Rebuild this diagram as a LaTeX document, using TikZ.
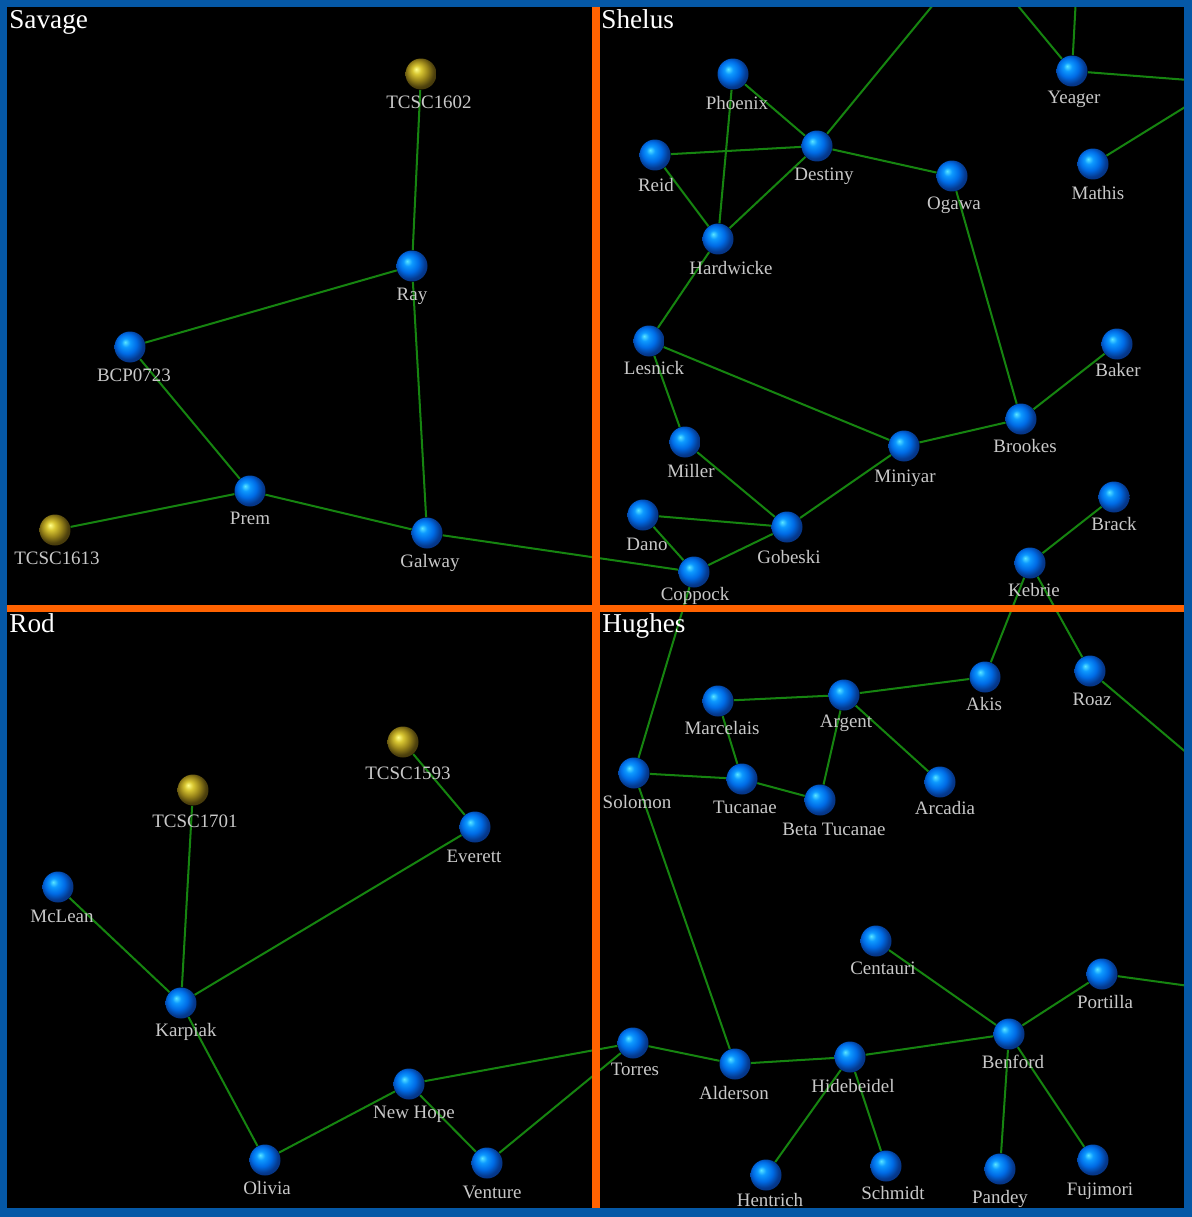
\documentclass[tikz,border=0pt]{standalone}
\usepackage{fontspec}
\setmainfont{Liberation Serif}
\usetikzlibrary{backgrounds}

\definecolor{frameblue}{RGB}{5,88,166}
\definecolor{barorange}{RGB}{255,98,0}
\definecolor{lanegreen}{RGB}{22,132,16}
\definecolor{labelgrey}{RGB}{200,200,200}

\pgfdeclareradialshading{bluesphere}{\pgfpoint{-8bp}{8bp}}{rgb(0bp)=(0.35,0.9,1); rgb(7bp)=(0.05,0.6,1); rgb(16bp)=(0,0.42,0.9); rgb(25bp)=(0.02,0.22,0.55); rgb(50bp)=(0,0.1,0.3)}
\pgfdeclareradialshading{goldsphere}{\pgfpoint{-8bp}{8bp}}{rgb(0bp)=(1,1,0.55); rgb(7bp)=(0.85,0.78,0.2); rgb(16bp)=(0.6,0.52,0.1); rgb(25bp)=(0.3,0.25,0.05); rgb(50bp)=(0.1,0.08,0)}

\tikzset{
  sphere/.style={circle, minimum size=0.62cm, inner sep=0pt, shade},
  tag/.style={text=labelgrey, font=\fontsize{10.8}{12}\selectfont, inner sep=0pt, text height=7pt, text depth=2pt, yshift=-0.06cm},
  title/.style={text=white, font=\fontsize{15.5}{18}\selectfont, inner sep=0pt, anchor=base west},
  link/.style={draw=lanegreen, line width=1.15pt}
}

\newcommand*{\PlaceStars}[2]{% #1 = shading, #2 = list of name/x/y/dx/dy/text
  \foreach \n/\x/\y/\dx/\dy/\txt in {#2} {
    \node [sphere, shading=#1] (\n) at (\x,\y) {};
    \node [tag] (\n-lbl) at (\x+\dx,\y+\dy) {\txt};
  }%
}

\begin{document}
\begin{tikzpicture}[x=0.02cm, y=-0.02cm]
    \useasboundingbox (0,0) rectangle (1192,1217);

    % stars
    \PlaceStars{goldsphere}{
        TCSC1602/421/74/8/27/TCSC1602,
        TCSC1613/55/530/2/27/TCSC1613,
        TCSC1593/403/742/5/30/TCSC1593,
        TCSC1701/193/790/2/30/TCSC1701}
    \PlaceStars{bluesphere}{
        Ray/412/266/0/27/Ray,
        BCP0723/130/347/4/27/BCP0723,
        Prem/250/491/0/26/Prem,
        Galway/427/533/3/27/Galway,
        Phoenix/733/74/4/28/Phoenix,
        Destiny/817/146/7/27/Destiny,
        Reid/655/155/1/29/Reid,
        Ogawa/952/176/2/26/Ogawa,
        Hardwicke/718/239/13/28/Hardwicke,
        Yeager/1072/71/2/25/Yeager,
        Mathis/1093/164/5/28/Mathis,
        Lesnick/649/341/5/26/Lesnick,
        Baker/1117/344/1/25/Baker,
        Brookes/1021/419/4/26/Brookes,
        Miller/685/442/6/28/Miller,
        Miniyar/904/446/1/29/Miniyar,
        Brack/1114/497/0/26/Brack,
        Dano/643/515/4/28/Dano,
        Gobeski/787/527/2/29/Gobeski,
        Coppock/694/572/1/21/Coppock,
        Kebrie/1030/563/4/26/Kebrie,
        Everett/475/827/-1/28/Everett,
        McLean/58/887/4/28/McLean,
        Karpiak/181/1003/5/26/Karpiak,
        NewHope/409/1084/5/27/New Hope,
        Olivia/265/1160/2/27/Olivia,
        Venture/487/1163/5/28/Venture,
        Akis/985/677/-1/26/Akis,
        Roaz/1090/671/2/27/Roaz,
        Argent/844/695/2/25/Argent,
        Marcelais/718/701/4/26/Marcelais,
        Solomon/634/773/3/28/Solomon,
        Tucanae/742/779/3/27/Tucanae,
        BetaTucanae/820/800/14/28/Beta Tucanae,
        Arcadia/940/782/5/25/Arcadia,
        Centauri/876/941/7/26/Centauri,
        Portilla/1102/974/3/27/Portilla,
        Benford/1009/1034/4/27/Benford,
        Torres/633/1043/2/25/Torres,
        Alderson/735/1064/-1/28/Alderson,
        Hidebeidel/850/1057/3/28/Hidebeidel,
        Hentrich/766/1175/4/24/Hentrich,
        Schmidt/886/1166/7/26/Schmidt,
        Pandey/1000/1169/0/27/Pandey,
        Fujimori/1093/1160/7/28/Fujimori}

    % lanes leaving the map
    \coordinate (outDestiny) at (970,-40);
    \coordinate (outYeagerA) at (980,-40);
    \coordinate (outYeagerB) at (1078,-40);
    \coordinate (outYeagerC) at (1240,84);
    \coordinate (outMathis) at (1240,73);
    \coordinate (outRoaz) at (1240,798);
    \coordinate (outPortilla) at (1240,993);

    \begin{scope}[on background layer]
        \fill [frameblue] (0,0) rectangle (1192,1217);
        \fill [black] (7,7) rectangle (1184,1208);
        \clip (7,7) rectangle (1184,1208);
        \foreach \a/\b in {
            TCSC1602/Ray, Ray/BCP0723, Ray/Galway, BCP0723/Prem, Prem/TCSC1613,
            Prem/Galway, Galway/Coppock,
            Phoenix/Destiny, Phoenix/Hardwicke, Reid/Destiny, Reid/Hardwicke,
            Hardwicke/Destiny, Destiny/outDestiny, Destiny/Ogawa, Ogawa/Brookes,
            Hardwicke/Lesnick, Lesnick/Miller, Lesnick/Miniyar, Miller/Gobeski,
            Miniyar/Gobeski, Miniyar/Brookes, Brookes/Baker, Dano/Gobeski,
            Dano/Coppock, Gobeski/Coppock, Yeager/outYeagerA, Yeager/outYeagerB,
            Yeager/outYeagerC, Mathis/outMathis, Kebrie/Brack, Kebrie/Akis,
            Kebrie/Roaz, Coppock/Solomon,
            TCSC1593/Everett, TCSC1701/Karpiak, McLean/Karpiak, Karpiak/Everett,
            Karpiak/Olivia, Olivia/NewHope, NewHope/Torres, NewHope/Venture,
            Venture/Torres,
            Akis/Argent, Marcelais/Argent, Marcelais/Tucanae, Argent/BetaTucanae,
            Argent/Arcadia, Solomon/Tucanae, Tucanae/BetaTucanae, Solomon/Alderson,
            Roaz/outRoaz, Torres/Alderson, Alderson/Hidebeidel, Hidebeidel/Benford,
            Hidebeidel/Hentrich, Hidebeidel/Schmidt, Centauri/Benford,
            Benford/Portilla, Portilla/outPortilla, Benford/Pandey, Benford/Fujimori}
            \draw [link] (\a) -- (\b);
    \end{scope}

    % sector borders
    \fill [barorange] (592,7) rectangle (600,1208);
    \fill [barorange] (7,605) rectangle (1184,612);

    \node [title] (savage) at (9,29) {Savage};
    \node [title] (shelus) at (601,29) {Shelus};
    \node [title] (rod) at (9,632) {Rod};
    \node [title] (hughes) at (602,632) {Hughes};
\end{tikzpicture}
\end{document}
